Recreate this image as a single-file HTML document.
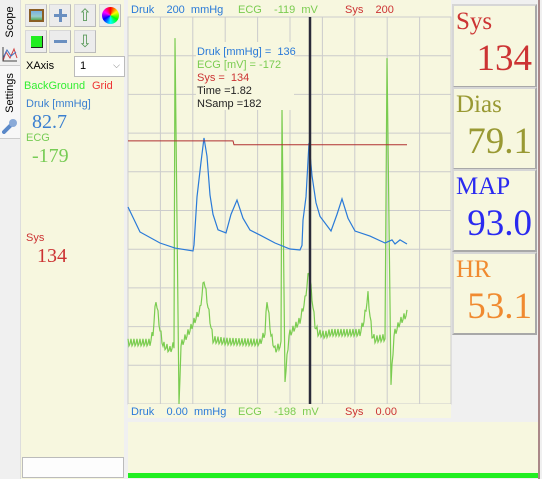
<!DOCTYPE html>
<html><head><meta charset="utf-8">
<style>
*{box-sizing:border-box;margin:0;padding:0}
body{width:542px;height:479px;overflow:hidden;background:#f0f0f0;font-family:"Liberation Sans",sans-serif;position:relative}
.abs{position:absolute}
.panel{background:#f7f7df}
.btn{position:absolute;width:22px;height:23px;background:#ececec;border:1px solid #d8d8d8;border-bottom-color:#bbb;border-right-color:#bbb}
.s11{font-size:11px}
.serif{font-family:"Liberation Serif",serif}
svg text{white-space:pre}
.box{position:absolute;left:452px;width:85px;background:#f7f7df;border:2px solid #d6d6d6;border-right-color:#a8a8a8;border-bottom-color:#a8a8a8}
.box .t{position:absolute;left:2px;top:2px;font-size:25px;font-family:"Liberation Serif",serif}
.box .v{position:absolute;right:3px;top:31px;font-size:37px;font-family:"Liberation Serif",serif}
</style></head><body>
<div class="abs" style="left:0;top:0;width:21px;height:479px;background:#f0f0f0;border-right:1px solid #ddd"></div>
<div class="abs" style="left:0;top:2px;width:20px;height:62px;background:#f0f0f0">
 <div class="abs s11" style="left:-7px;top:14px;transform:rotate(-90deg);width:34px;text-align:center">Scope</div>
 <svg class="abs" style="left:2px;top:44px" width="16" height="16"><path d="M1 15 L4 6 L8 12 L12 3 L15 12" fill="none" stroke="#d04040"/><path d="M1 12 L5 4 L9 10 L14 6" fill="none" stroke="#4070c0"/><path d="M1 1V15H15" fill="none" stroke="#444"/></svg>
</div>
<div class="abs" style="left:0;top:65px;width:20px;height:74px;border-top:1px solid #ccc;border-bottom:1px solid #ccc;background:#f7f7f7">
 <div class="abs s11" style="left:-14px;top:21px;transform:rotate(-90deg);width:48px;text-align:center">Settings</div>
 <svg class="abs" style="left:2px;top:52px" width="16" height="16"><path d="M2 14 L10 6" stroke="#5a88c8" stroke-width="4" stroke-linecap="round"/><circle cx="11" cy="5" r="4" fill="#8aaad8"/></svg>
</div>
<div class="abs panel" style="left:21px;top:0;width:103px;height:479px"></div>
<div class="btn" style="left:25px;top:4px"><div class="abs" style="left:3px;top:4px;width:15px;height:13px;background:#a77a3a;border:2px solid #8a5f25"><div style="width:100%;height:100%;background:linear-gradient(#7ab0e0,#9cc 60%,#5a5)"></div></div></div>
<div class="btn" style="left:49px;top:4px"><div class="abs" style="left:4px;top:9px;width:13px;height:3px;background:#6a8fc0"></div><div class="abs" style="left:9px;top:4px;width:3px;height:13px;background:#6a8fc0"></div></div>
<div class="btn" style="left:74px;top:4px;color:#5a9a5a;font-size:17px;text-align:center;line-height:22px">⇧</div>
<div class="btn" style="left:99px;top:4px"><div class="abs" style="left:2px;top:2px;width:17px;height:17px;border-radius:50%;background:conic-gradient(red,yellow,lime,cyan,blue,magenta,red)"></div></div>
<div class="btn" style="left:25px;top:30px"><div class="abs" style="left:5px;top:5px;width:12px;height:12px;background:#22ee22;border-right:1px solid #222;border-bottom:1px solid #222"></div></div>
<div class="btn" style="left:49px;top:30px"><div class="abs" style="left:4px;top:9px;width:13px;height:3px;background:#6a8fc0"></div></div>
<div class="btn" style="left:74px;top:30px;color:#5a9a5a;font-size:17px;text-align:center;line-height:22px">⇩</div>
<div class="abs s11" style="left:26px;top:60px">XAxis</div>
<div class="abs s11" style="left:74px;top:56px;width:51px;height:21px;background:#fff;border:1px solid #bbb;padding:3px 5px">1<span style="position:absolute;right:4px;top:3px;color:#777;font-size:9px">&#x2335;</span></div>
<div class="abs s11" style="left:24px;top:80px;color:#33ee33">BackGround</div>
<div class="abs s11" style="left:92px;top:80px;color:#ee3333">Grid</div>
<div class="abs s11" style="left:26px;top:98px;color:#3a7fd0">Druk [mmHg]</div>
<div class="abs serif" style="left:32px;top:111px;color:#3a7fd0;font-size:20px">82.7</div>
<div class="abs s11" style="left:26px;top:132px;color:#77cc55">ECG</div>
<div class="abs serif" style="left:32px;top:145px;color:#77cc55;font-size:20px">-179</div>
<div class="abs s11" style="left:26px;top:232px;color:#cc3333">Sys</div>
<div class="abs serif" style="left:37px;top:245px;color:#cc3333;font-size:20px">134</div>
<div class="abs" style="left:22px;top:457px;width:102px;height:21px;background:#fdfdfd;border:1px solid #bbb"></div>

<svg class="abs" style="left:0;top:0" width="542" height="479" id="chart"></svg>

<div class="box" style="top:4px;height:84px"><span class="t" style="color:#cc3333">Sys</span><span class="v" style="color:#cc3333">134</span></div>
<div class="box" style="top:87px;height:83px"><span class="t" style="color:#999933">Dias</span><span class="v" style="color:#999933">79.1</span></div>
<div class="box" style="top:169px;height:83px"><span class="t" style="color:#2a2af0">MAP</span><span class="v" style="color:#2a2af0">93.0</span></div>
<div class="box" style="top:252px;height:83px"><span class="t" style="color:#f08a30">HR</span><span class="v" style="color:#f08a30">53.1</span></div>
<div class="abs" style="left:538px;top:0;width:2px;height:479px;background:#a88"></div>

<script>
const pressSamples=[0,12,32,47,65,66,69,73,76,79,82,85,90,98,103,109,115,122,132,147,162,172,174,175,178,181,184,188,192,203,209,214,220,227,242,257,264,267,272,279];
const pressValues=[101.8,88.9,83.2,80.6,79.1,82.2,107,125,137.5,128,108,98,90,88.4,98,105.4,96,89.9,87.3,83.2,80.1,79.6,82,95,107,134.9,118,104,97,89.4,98,106,96,89.4,86.8,83.2,84.8,82.7,84.8,82.7];
const ecgSamples=[0,22,25,28,32,35,42,46,47,51,53,62,72,76,82,85,97,132,137,139,143,147,153,154,157,161,172,177,181,187,190,197,202,232,236,240,244,247,257,259,263,266,272,279];
const ecgValues=[-185.5,-185.5,-183.5,-176.6,-182.9,-186,-187,-186,-123.3,-198,-186,-182.9,-178.8,-172.5,-180.9,-184.9,-185.3,-185.5,-183.5,-176.6,-183.9,-187,-186,-137.6,-193.5,-183.9,-181,-176.8,-170.7,-181.9,-183.5,-184,-183.5,-183.5,-181,-175.8,-183.9,-184.9,-184.5,-127.4,-194.1,-183.9,-181.3,-179.6];
const sysSamples=[0,105,106,279];
const sysValues=[136,136,134,134];
const cursorSample=182;
const pMin=0,pMax=200,eTop=-119,eBot=-198;
const L=128,T=17,B=404,R=451;
const xs=s=>L+s;
const yP=v=>B-(v-pMin)/(pMax-pMin)*(B-T);
const yE=v=>B-(v-eBot)/(eTop-eBot)*(B-T);
const NS='http://www.w3.org/2000/svg';
const svg=document.getElementById('chart');
function mk(t,a){const e=document.createElementNS(NS,t);for(const k in a)e.setAttribute(k,a[k]);svg.appendChild(e);return e;}
let e;
e=mk('rect',{x:128,y:0,width:323,height:17,fill:'#f7f7df'});


e=mk('rect',{x:L,y:T,width:R-L,height:B-T,fill:'#f7f7df',stroke:'#ccc'});


e=mk('rect',{x:128,y:404,width:323,height:14,fill:'#f7f7df'});


e=mk('rect',{x:128,y:422,width:410,height:51,fill:'#f7f7df'});


e=mk('rect',{x:128,y:473,width:410,height:5,fill:'#22ee22'});


for(let i=1;i<10;i++){const x=L+i*32.4;e=mk('line',{x1:x,x2:x,y1:T,y2:B,stroke:'#ccc'});

}
for(let i=1;i<10;i++){const y=T+i*(B-T)/10;e=mk('line',{x1:L,x2:R,y1:y,y2:y,stroke:'#ccc'});

}
let pts=[];
for(let s=0;s<=ecgSamples[ecgSamples.length-1];s++){
 let i=0;while(i<ecgSamples.length-2&&ecgSamples[i+1]<s)i++;
 const s0=ecgSamples[i],s1=ecgSamples[i+1];const t=s1===s0?0:(s-s0)/(s1-s0);
 const v=ecgValues[i]+(ecgValues[i+1]-ecgValues[i])*Math.min(1,Math.max(0,t));
 const spike=Math.abs(ecgValues[i]-ecgValues[i+1])>20;
 pts.push(xs(s)+','+(yE(v)+(spike?0:(s%3===0?-4:(s%3===1?3:1)))).toFixed(1));
}
e=mk('polyline',{points:pts.join(' '),fill:'none',stroke:'#7acc50','stroke-width':1.2});


e=mk('polyline',{points:pressSamples.map((s,i)=>xs(s)+','+yP(pressValues[i])).join(' '),fill:'none',stroke:'#2a7ad8','stroke-width':1.2});


e=mk('polyline',{points:sysSamples.map((s,i)=>xs(s)+','+yP(sysValues[i])).join(' '),fill:'none',stroke:'#b03030','stroke-width':1});


e=mk('line',{x1:xs(cursorSample),x2:xs(cursorSample),y1:T,y2:B,stroke:'#2a2a3a','stroke-width':2.5});


function txt(x,y,s,c,n){const t=mk('text',{x:x,y:y,fill:c,'font-size':11,'font-family':'Liberation Sans, sans-serif'});t.textContent=s;

}
txt(131,13,'Druk    200  mmHg','#2a7ad8','top-druk-label');
txt(238,13,'ECG    -119  mV','#7acc50','top-ecg-label');
txt(345,13,'Sys    200','#cc3333','top-sys-label');
txt(131,415,'Druk    0.00  mmHg','#2a7ad8','bottom-druk-label');
txt(238,415,'ECG    -198  mV','#7acc50','bottom-ecg-label');
txt(345,415,'Sys    0.00','#cc3333','bottom-sys-label');
e=mk('rect',{x:196,y:42,width:98,height:68,fill:'#f7f7df'});


txt(197,55,'Druk [mmHg] =  136','#2a7ad8','tooltip-druk');
txt(197,68,'ECG [mV] = -172','#7acc50','tooltip-ecg');
txt(197,81,'Sys =  134','#cc3333','tooltip-sys');
txt(197,94,'Time =1.82','#222','tooltip-time');
txt(197,107,'NSamp =182','#222','tooltip-nsamp');
</script>
</body></html>
